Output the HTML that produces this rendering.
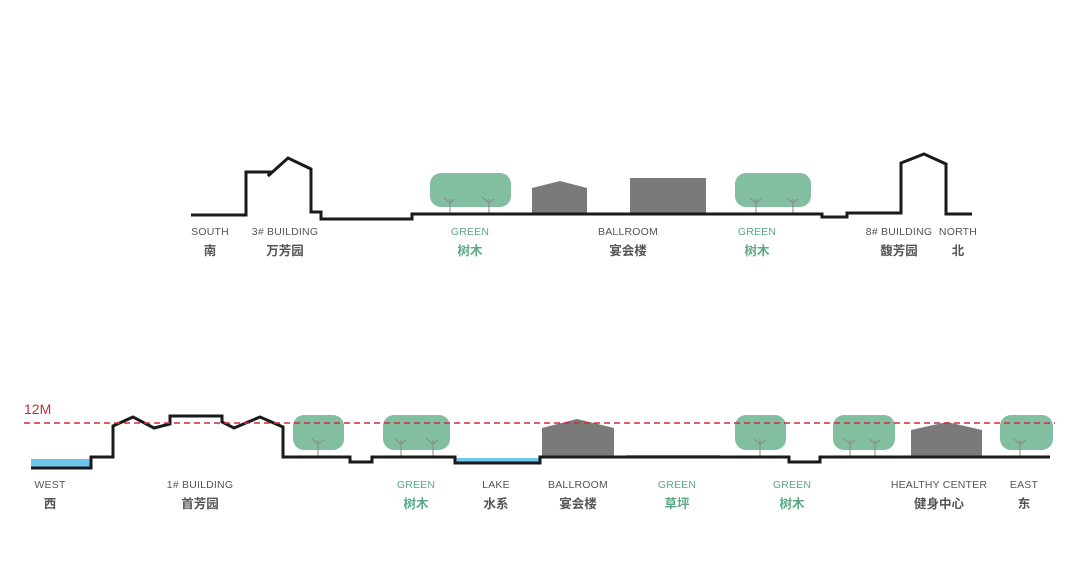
<!DOCTYPE html>
<html><head><meta charset="utf-8"><style>
html,body{margin:0;padding:0;background:#fff;}
svg{display:block}
.l{font-family:"Liberation Sans",sans-serif;font-size:10.5px;fill:#555;text-anchor:middle;letter-spacing:0.2px}
.c{font-family:"Liberation Sans","Noto Sans CJK SC",sans-serif;font-size:12.5px;font-weight:bold;fill:#555;text-anchor:middle}
.g{fill:#5aa884}
.t{fill:#82bea0}
.b{fill:#7a7a7a}
</style></head><body>
<svg width="1080" height="563" viewBox="0 0 1080 563" xmlns="http://www.w3.org/2000/svg">
<!-- TOP -->
<rect class="t" x="430" y="173" width="81" height="34" rx="11"/>
<rect class="t" x="735" y="173" width="76" height="34" rx="11"/>
<g stroke="#8a8a8a" stroke-width="1" fill="none">
<path d="M450 214V199M450 203l-6-5M450 203l5-4M489 214V199M489 203l-7-6M489 203l5-4"/>
<path d="M756 214V199M756 203l-6-5M756 203l5-4M793 214V199M793 203l-6-5M793 203l5-4"/>
</g>
<path class="b" d="M532 214V188L560 181L587 188V214Z"/>
<rect class="b" x="630" y="178" width="76" height="36"/>
<path d="M191 215H246V172H271L268 176L288 158L311 169V212H321V219H412V214H822V217H847V213H901V163L924 154L946 164V214H972" fill="none" stroke="#1a1a1a" stroke-width="3"/>
<text class="l" x="210" y="235">SOUTH</text><text class="c" x="210" y="255">南</text>
<text class="l" x="285" y="235">3# BUILDING</text><text class="c" x="285" y="255">万芳园</text>
<text class="l g" x="470" y="235">GREEN</text><text class="c g" x="470" y="255">树木</text>
<text class="l" x="628" y="235">BALLROOM</text><text class="c" x="628" y="255">宴会楼</text>
<text class="l g" x="757" y="235">GREEN</text><text class="c g" x="757" y="255">树木</text>
<text class="l" x="899" y="235">8# BUILDING</text><text class="c" x="899" y="255">馥芳园</text>
<text class="l" x="958" y="235">NORTH</text><text class="c" x="958" y="255">北</text>
<!-- BOTTOM -->
<rect x="31" y="459" width="60" height="9" fill="#6ec6ea"/>
<rect x="455" y="458" width="86" height="5" fill="#6ec6ea"/>
<rect x="627" y="455" width="93" height="2" fill="#8fc4a8"/>
<rect class="t" x="293" y="415" width="51" height="35" rx="11"/>
<rect class="t" x="383" y="415" width="67" height="35" rx="11"/>
<rect class="t" x="735" y="415" width="51" height="35" rx="11"/>
<rect class="t" x="833" y="415" width="62" height="35" rx="11"/>
<rect class="t" x="1000" y="415" width="53" height="35" rx="11"/>
<g stroke="#8a8a8a" stroke-width="1" fill="none">
<path d="M318 457V440M318 444l-6-5M318 444l6-4M401 457V440M401 444l-6-5M401 444l5-4M433 457V440M433 444l-7-6M433 444l5-4M760 457V440M760 444l-6-5M760 444l6-4M850 457V440M850 444l-6-5M850 444l5-4M875 457V440M875 444l-6-5M875 444l5-4M1020 457V440M1020 444l-6-5M1020 444l6-4"/>
</g>
<path class="b" d="M542 457V428L577 419L614 428V457Z"/>
<path class="b" d="M911 457V430L947 422L982 430V457Z"/>
<path d="M31 468H91V457H113V426L133 417L154 428L170 424V416H222V422L234 428L260 417L283 427V457H350V462H372V457H455V463H540V457H789V462H820V457H1050" fill="none" stroke="#1a1a1a" stroke-width="3"/>
<line x1="24" y1="423" x2="1055" y2="423" stroke="#d22a3a" stroke-width="1.6" stroke-dasharray="6,4"/>
<text x="24" y="414" font-family="Liberation Sans,sans-serif" font-size="14" fill="#d22a3a">12M</text>
<text class="l" x="50" y="488">WEST</text><text class="c" x="50" y="508">西</text>
<text class="l" x="200" y="488">1# BUILDING</text><text class="c" x="200" y="508">首芳园</text>
<text class="l g" x="416" y="488">GREEN</text><text class="c g" x="416" y="508">树木</text>
<text class="l" x="496" y="488">LAKE</text><text class="c" x="496" y="508">水系</text>
<text class="l" x="578" y="488">BALLROOM</text><text class="c" x="578" y="508">宴会楼</text>
<text class="l g" x="677" y="488">GREEN</text><text class="c g" x="677" y="508">草坪</text>
<text class="l g" x="792" y="488">GREEN</text><text class="c g" x="792" y="508">树木</text>
<text class="l" x="939" y="488">HEALTHY CENTER</text><text class="c" x="939" y="508">健身中心</text>
<text class="l" x="1024" y="488">EAST</text><text class="c" x="1024" y="508">东</text>
</svg>
</body></html>
